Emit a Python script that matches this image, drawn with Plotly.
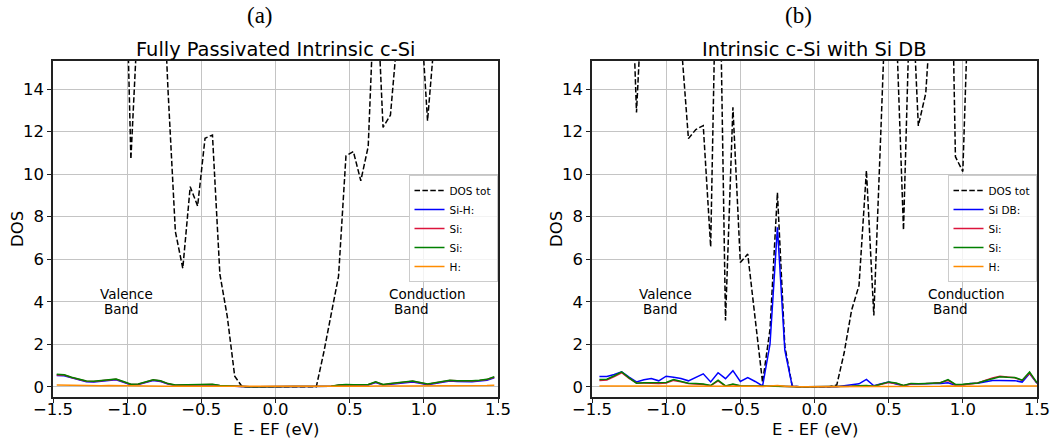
import plotly.graph_objects as go

# ---------------- data ----------------
# panel (a): energy grid (eV)
E_a = [-1.475, -1.425, -1.375, -1.325, -1.275, -1.225, -1.175, -1.125, -1.075, -1.025,
       -0.975, -0.925, -0.875, -0.825, -0.775, -0.725, -0.675, -0.625, -0.575, -0.525,
       -0.475, -0.425, -0.375, -0.325, -0.275, -0.225, -0.175, -0.125, -0.075, -0.025,
       0.025, 0.075, 0.125, 0.175, 0.225, 0.275, 0.325, 0.375, 0.425, 0.475,
       0.525, 0.575, 0.625, 0.675, 0.725, 0.775, 0.825, 0.875, 0.925, 0.975,
       1.025, 1.075, 1.125, 1.175, 1.225, 1.275, 1.325, 1.375, 1.425, 1.475]
dos_tot_a = [24, 26, 25, 27, 25, 24, 26, 25, 27, 25,
             10.7, 18.7, 25, 27, 22, 14.0, 7.3, 5.57, 9.41, 8.5,
             11.69, 11.84, 5.3, 3.3, 0.5, 0.0, 0, 0, 0, 0,
             0, 0, 0, 0, 0, 0.0, 1.6, 3.4, 5.2, 10.86,
             11.06, 9.69, 11.3, 20, 12.2, 12.78, 16.8, 25, 27, 18.1,
             12.51, 16.7, 25, 26, 24, 25, 27, 26, 25, 24]
si_h_a = [0.53, 0.52, 0.42, 0.33, 0.24, 0.23, 0.27, 0.32, 0.33, 0.21,
          0.10, 0.11, 0.19, 0.30, 0.25, 0.13, 0.06, 0.07, 0.09, 0.10,
          0.11, 0.10, 0.05, 0.03, 0.01, 0, 0, 0, 0, 0,
          0, 0, 0, 0, 0, 0.0, 0.01, 0.02, 0.06, 0.09,
          0.08, 0.07, 0.09, 0.20, 0.09, 0.12, 0.16, 0.22, 0.23, 0.17,
          0.10, 0.15, 0.22, 0.27, 0.25, 0.23, 0.24, 0.27, 0.31, 0.42]
si1_a = [0.56, 0.55, 0.44, 0.35, 0.26, 0.25, 0.29, 0.34, 0.35, 0.23,
         0.11, 0.12, 0.21, 0.32, 0.27, 0.14, 0.07, 0.08, 0.10, 0.11,
         0.13, 0.11, 0.05, 0.03, 0.01, 0, 0, 0, 0, 0,
         0, 0, 0, 0, 0, 0.0, 0.01, 0.03, 0.07, 0.10,
         0.09, 0.08, 0.10, 0.22, 0.10, 0.14, 0.18, 0.25, 0.26, 0.19,
         0.12, 0.18, 0.25, 0.30, 0.28, 0.26, 0.27, 0.30, 0.34, 0.45]
si2_a = [0.59, 0.57, 0.45, 0.36, 0.27, 0.26, 0.30, 0.35, 0.37, 0.25,
         0.12, 0.13, 0.22, 0.33, 0.28, 0.15, 0.08, 0.09, 0.11, 0.12,
         0.14, 0.12, 0.06, 0.04, 0.02, 0, 0, 0, 0, 0,
         0, 0, 0, 0, 0, 0.0, 0.01, 0.03, 0.08, 0.11,
         0.10, 0.09, 0.11, 0.23, 0.11, 0.15, 0.19, 0.26, 0.27, 0.20,
         0.13, 0.19, 0.26, 0.31, 0.29, 0.27, 0.28, 0.31, 0.35, 0.47]
h_a = [0.08, 0.07, 0.06, 0.05, 0.04, 0.04, 0.05, 0.06, 0.06, 0.04,
       0.03, 0.03, 0.04, 0.05, 0.04, 0.03, 0.02, 0.02, 0.03, 0.03,
       0.03, 0.03, 0.02, 0.01, 0.0, 0, 0, 0, 0, 0,
       0, 0, 0, 0, 0, 0.0, 0.0, 0.01, 0.02, 0.03,
       0.03, 0.03, 0.03, 0.04, 0.03, 0.03, 0.04, 0.04, 0.04, 0.04,
       0.03, 0.04, 0.05, 0.05, 0.05, 0.05, 0.05, 0.06, 0.06, 0.07]

# panel (b): energy grid (eV)
E_b = [-1.45, -1.40, -1.35, -1.30, -1.25, -1.20, -1.15, -1.10, -1.05, -1.00,
       -0.95, -0.90, -0.85, -0.80, -0.75, -0.70, -0.65, -0.60, -0.55, -0.50,
       -0.45, -0.40, -0.35, -0.30, -0.25, -0.20, -0.15, -0.10, -0.05, 0.00,
       0.05, 0.10, 0.15, 0.20, 0.25, 0.30, 0.35, 0.40, 0.45, 0.50,
       0.55, 0.60, 0.65, 0.70, 0.75, 0.80, 0.85, 0.90, 0.95, 1.00,
       1.05, 1.10, 1.15, 1.20, 1.25, 1.30, 1.35, 1.40, 1.45, 1.50]
dos_tot_b = [24, 26, 25, 24, 23, 12.9, 25, 27, 26, 25,
             24, 16.3, 11.67, 12.1, 12.28, 6.58, 25, 3.12, 13.14, 5.85,
             6.24, 3.2, 0.2, 2.7, 9.13, 1.9, 0.03, 0, 0, 0,
             0, 0, 0.08, 1.6, 3.6, 4.76, 10.17, 3.35, 12.5, 22,
             17.3, 7.37, 20, 12.27, 13.8, 20, 26, 30, 10.82, 10.12,
             21, 25, 27, 26, 24, 25, 27, 26, 25, 24]
si_db_b = [0.48, 0.48, 0.58, 0.70, 0.45, 0.23, 0.33, 0.39, 0.28, 0.50,
           0.45, 0.39, 0.28, 0.45, 0.61, 0.23, 0.66, 0.38, 0.76, 0.25,
           0.43, 0.25, 0.04, 2.0, 7.5, 1.72, 0.02, 0, 0, 0,
           0, 0, 0.0, 0.05, 0.10, 0.14, 0.35, 0.05, 0.14, 0.22,
           0.13, 0.05, 0.13, 0.12, 0.14, 0.15, 0.15, 0.19, 0.07, 0.08,
           0.15, 0.17, 0.24, 0.30, 0.30, 0.30, 0.29, 0.22, 0.62, 0.16]
si1_b = [0.30, 0.32, 0.48, 0.66, 0.40, 0.18, 0.18, 0.17, 0.15, 0.18,
         0.30, 0.24, 0.15, 0.13, 0.11, 0.05, 0.28, 0.03, 0.11, 0.04,
         0.03, 0.02, 0.02, 0.02, 0.03, 0.01, 0.0, 0, 0, 0,
         0, 0, 0, 0, 0.02, 0.04, 0.05, 0.03, 0.12, 0.20,
         0.16, 0.05, 0.14, 0.13, 0.15, 0.17, 0.20, 0.30, 0.10, 0.10,
         0.15, 0.18, 0.30, 0.42, 0.50, 0.46, 0.42, 0.30, 0.65, 0.17]
si2_b = [0.34, 0.36, 0.52, 0.70, 0.42, 0.17, 0.19, 0.19, 0.17, 0.20,
         0.34, 0.26, 0.17, 0.15, 0.13, 0.06, 0.31, 0.04, 0.13, 0.05,
         0.04, 0.03, 0.02, 0.02, 0.03, 0.01, 0.0, 0, 0, 0,
         0, 0, 0, 0, 0.02, 0.05, 0.06, 0.03, 0.14, 0.23,
         0.18, 0.06, 0.16, 0.14, 0.16, 0.17, 0.19, 0.34, 0.11, 0.12,
         0.16, 0.18, 0.28, 0.38, 0.47, 0.45, 0.44, 0.31, 0.70, 0.19]
h_b = [0.04, 0.04, 0.05, 0.05, 0.04, 0.03, 0.03, 0.03, 0.03, 0.03,
       0.03, 0.03, 0.03, 0.03, 0.03, 0.02, 0.03, 0.02, 0.03, 0.02,
       0.02, 0.02, 0.01, 0.02, 0.06, 0.02, 0.0, 0, 0, 0,
       0, 0, 0, 0.0, 0.01, 0.02, 0.02, 0.02, 0.03, 0.03,
       0.03, 0.02, 0.03, 0.03, 0.03, 0.03, 0.03, 0.04, 0.03, 0.03,
       0.03, 0.03, 0.04, 0.04, 0.04, 0.04, 0.04, 0.04, 0.05, 0.04]

panel_titles = ["Fully Passivated Intrinsic c-Si", "Intrinsic c-Si with Si DB"]
panel_tags = ["(a)", "(b)"]
names_a = ["DOS tot", "Si-H:", "Si:", "Si:", "H:"]
names_b = ["DOS tot", "Si DB:", "Si:", "Si:", "H:"]
x_title = "E - EF (eV)"
y_title = "DOS"
x_ticks = [-1.5, -1.0, -0.5, 0.0, 0.5, 1.0, 1.5]
y_ticks = [0, 2, 4, 6, 8, 10, 12, 14]

# ---------------- styling ----------------
W, H = 1052, 441
FONT = "DejaVu Sans"
colors = ["black", "#0000ff", "crimson", "green", "darkorange"]
dom_a = [53 / W, 498 / W]
dom_b = [592 / W, 1037 / W]
dom_y = [1 - 397 / H, 1 - 61 / H]

fig = go.Figure()

def add_panel(E, series, names, xa, ya, legend):
    for i, (vals, nm) in enumerate(zip(series, names)):
        line = dict(color=colors[i], width=1.5)
        if i == 0:
            line["dash"] = "5.5px,2.4px"
        fig.add_trace(go.Scatter(x=E, y=vals, name=nm, mode="lines", line=line,
                                 xaxis=xa, yaxis=ya, legend=legend))

add_panel(E_a, [dos_tot_a, si_h_a, si1_a, si2_a, h_a], names_a, "x", "y", "legend")
add_panel(E_b, [dos_tot_b, si_db_b, si1_b, si2_b, h_b], names_b, "x2", "y2", "legend2")

axis_common = dict(showline=True, linecolor="#222", linewidth=1.5, mirror=True,
                   ticks="outside", ticklen=4, tickwidth=1.1, tickcolor="#222",
                   showgrid=True, gridcolor="#c4c4c4", gridwidth=1.2, automargin=False,
                   zeroline=False, tickfont=dict(family=FONT, size=16.5, color="black"))

xcommon = dict(axis_common, range=[-1.5, 1.5], tickvals=x_ticks, tickformat=".1f",
               ticklabelstandoff=-8)
ycommon = dict(axis_common, range=[-0.48, 15.32], tickvals=y_ticks)

legend_common = dict(font=dict(family=FONT, size=10.5, color="black"), bgcolor="rgba(255,255,255,0.8)",
                     bordercolor="#cccccc", borderwidth=1, xanchor="center", yanchor="middle",
                     itemwidth=30, tracegroupgap=0)

annotations = []
centers = [(dom_a[0] + dom_a[1]) / 2, (dom_b[0] + dom_b[1]) / 2]
lefts = [dom_a[0], dom_b[0]]
for k, (xc, t, tag) in enumerate(zip(centers, panel_titles, panel_tags)):
    annotations.append(dict(text=t, x=xc, y=1 - 50 / H, xref="paper", yref="paper",
                            showarrow=False, xanchor="center", yanchor="middle",
                            font=dict(family=FONT, size=19.4, color="black")))
    annotations.append(dict(text=tag, x=xc - 16 / W, y=1 - 16 / H, xref="paper", yref="paper",
                            showarrow=False, xanchor="center", yanchor="middle",
                            font=dict(family="Liberation Serif", size=23, color="black")))
    # axis titles
    annotations.append(dict(text=x_title, x=xc, y=1 - 429.5 / H, xref="paper", yref="paper",
                            showarrow=False, xanchor="center", yanchor="middle",
                            font=dict(family=FONT, size=16.5, color="black")))
    annotations.append(dict(text=y_title, x=lefts[k] - 35 / W, y=1 - 229 / H, xref="paper",
                            yref="paper", showarrow=False, xanchor="center", yanchor="middle",
                            textangle=-90, font=dict(family=FONT, size=16.5, color="black")))

for xr, yr in [("x", "y"), ("x2", "y2")]:
    for txt, xv, yv in [("Valence", -1.2, 4.37), ("Band", -1.168, 3.68),
                        ("Conduction", 0.75, 4.37), ("Band", 0.782, 3.68)]:
        annotations.append(dict(text=txt, x=xv, y=yv, xref=xr, yref=yr, showarrow=False,
                                xanchor="left", yanchor="middle",
                                font=dict(family=FONT, size=13.5, color="black")))

fig.update_layout(
    width=W, height=H, margin=dict(l=0, r=0, t=0, b=0),
    paper_bgcolor="white", plot_bgcolor="white",
    xaxis=dict(xcommon, domain=dom_a, anchor="y"),
    yaxis=dict(ycommon, domain=dom_y, anchor="x"),
    xaxis2=dict(xcommon, domain=dom_b, anchor="y2"),
    yaxis2=dict(ycommon, domain=dom_y, anchor="x2"),
    legend=dict(legend_common, x=453 / W, y=1 - 228.5 / H),
    legend2=dict(legend_common, x=992 / W, y=1 - 228.5 / H),
    annotations=annotations,
    showlegend=True,
)

fig.write_html("out.html", config={"displayModeBar": False},
               post_script="document.body.style.margin='0';document.body.style.overflow='hidden';")
